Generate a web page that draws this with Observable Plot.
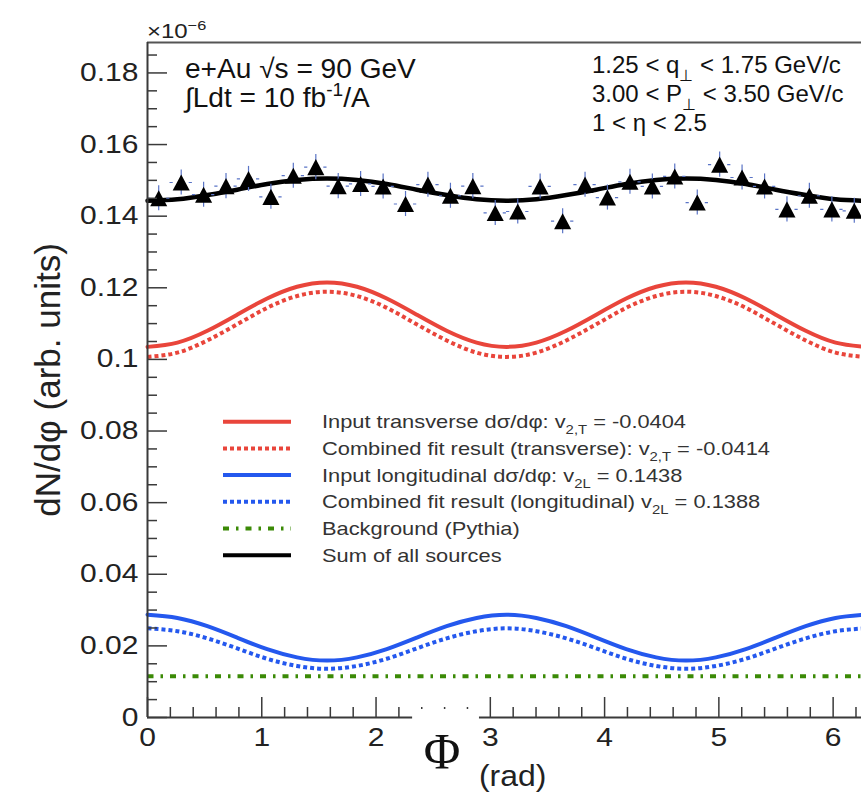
<!DOCTYPE html>
<html><head><meta charset="utf-8">
<script src="https://cdn.jsdelivr.net/npm/d3@7"></script>
<script src="https://cdn.jsdelivr.net/npm/@observablehq/plot@0.6"></script>
<style>body{margin:0;background:#fff;} svg{display:block}</style>
</head><body>
<script>
// ---------- data ----------
const phi = [0, 0.262, 0.524, 0.785, 1.047, 1.309, 1.571, 1.833, 2.094, 2.356, 2.618, 2.880, 3.142,
             3.403, 3.665, 3.927, 4.189, 4.451, 4.712, 4.974, 5.236, 5.498, 5.760, 6.021, 6.283];
const transverseInput = [0.1035,0.1047,0.1080,0.1125,0.1170,0.1203,0.1215,0.1203,0.1170,0.1125,0.1080,0.1047,0.1035,
                         0.1047,0.1080,0.1125,0.1170,0.1203,0.1215,0.1203,0.1170,0.1125,0.1080,0.1047,0.1035];
const transverseFit   = [0.1007,0.1019,0.1053,0.1098,0.1144,0.1177,0.1189,0.1177,0.1144,0.1098,0.1053,0.1019,0.1007,
                         0.1019,0.1053,0.1098,0.1144,0.1177,0.1189,0.1177,0.1144,0.1098,0.1053,0.1019,0.1007];
const longitudinalInput = [0.0287,0.0278,0.0255,0.0223,0.0191,0.0168,0.0159,0.0168,0.0191,0.0223,0.0255,0.0278,0.0287,
                           0.0278,0.0255,0.0223,0.0191,0.0168,0.0159,0.0168,0.0191,0.0223,0.0255,0.0278,0.0287];
const longitudinalFit   = [0.0249,0.0241,0.0221,0.0193,0.0164,0.0144,0.0136,0.0144,0.0164,0.0193,0.0221,0.0241,0.0249,
                           0.0241,0.0221,0.0193,0.0164,0.0144,0.0136,0.0144,0.0164,0.0193,0.0221,0.0241,0.0249];
const sumAll = [0.1443,0.1447,0.1459,0.1474,0.1490,0.1501,0.1505,0.1501,0.1490,0.1474,0.1459,0.1447,0.1443,
                0.1447,0.1459,0.1474,0.1490,0.1501,0.1505,0.1501,0.1490,0.1474,0.1459,0.1447,0.1443];
const bgPhi = [0, 6.283];
const background = [0.0115, 0.0115];

// pseudo-data points (32 bins)
const binPhi = [0.098,0.295,0.491,0.687,0.884,1.080,1.276,1.473,1.669,1.865,2.062,2.258,2.454,2.651,2.847,3.043,
                3.240,3.436,3.633,3.829,4.025,4.222,4.418,4.614,4.811,5.007,5.203,5.400,5.596,5.792,5.989,6.185];
const binValue = [0.1450,0.1494,0.1460,0.1484,0.1504,0.1454,0.1513,0.1537,0.1484,0.1490,0.1483,0.1434,0.1488,0.1457,0.1484,0.1409,
                  0.1413,0.1483,0.1386,0.1488,0.1452,0.1496,0.1483,0.1511,0.1438,0.1544,0.1508,0.1483,0.1419,0.1457,0.1419,0.1415];
const binError = 0.0035;
const binHalfWidth = 0.098;

// axes
const xMax = 6.2832, yMax = 0.1885;
const xMajorTicks = [0,1,2,3,4,5,6];
const xMinorTicks = [0.2,0.4,0.6,0.8,1.2,1.4,1.6,1.8,2.2,2.4,2.6,2.8,3.2,3.4,3.6,3.8,4.2,4.4,4.6,4.8,5.2,5.4,5.6,5.8,6.2];
const yMajorTicks = [0,0.02,0.04,0.06,0.08,0.1,0.12,0.14,0.16,0.18];
const yMinorTicks = [0.005,0.01,0.015,0.025,0.03,0.035,0.045,0.05,0.055,0.065,0.07,0.075,0.085,0.09,0.095,
                     0.105,0.11,0.115,0.125,0.13,0.135,0.145,0.15,0.155,0.165,0.17,0.175,0.185];

const legendEntries = [
  [["Input transverse dσ/dφ: v"],["2,T","sub"],[" = -0.0404"]],
  [["Combined fit result (transverse): v"],["2,T","sub"],[" = -0.0414"]],
  [["Input longitudinal dσ/dφ: v"],["2L","sub"],[" = 0.1438"]],
  [["Combined fit result (longitudinal) v"],["2L","sub"],[" = 0.1388"]],
  [["Background (Pythia)"]],
  [["Sum of all sources"]]
];

// ---------- styles ----------
const RED = "#e9453b", BLUE = "#2458ee", GREEN = "#3b8a06", ERR = "#5a74c6", AX = "#3a3a3a";
const redDash = "4,3", blueDash = "4,3", greenDash = "6,7,2.5,7";
const legendStyles = [
  {stroke: RED, dash: null}, {stroke: RED, dash: redDash},
  {stroke: BLUE, dash: null}, {stroke: BLUE, dash: blueDash},
  {stroke: GREEN, dash: greenDash}, {stroke: "black", dash: null}
];

const curves = phi.map((p, i) => ({phi: p, tIn: transverseInput[i], tFit: transverseFit[i],
  lIn: longitudinalInput[i], lFit: longitudinalFit[i], sum: sumAll[i]}));
const bg = bgPhi.map((p, i) => ({phi: p, v: background[i]}));
const points = binPhi.map((p, i) => ({phi: p, v: binValue[i], e: binError, w: binHalfWidth}));

const W = 861, H = 793, ML = 147, MR = -4, MT = 42, MB = 76;
const plotW = W - MR - ML, plotH = H - MT - MB;

const triangle = {
  draw(ctx, size) {
    const r = Math.sqrt(size / Math.PI);
    ctx.moveTo(0, -r * 1.15);
    ctx.lineTo(r * 1.22, r * 1.15);
    ctx.lineTo(-r * 1.22, r * 1.15);
    ctx.closePath();
  }
};

const FONT = "'Liberation Sans', Arial, Helvetica, sans-serif";
const chart = Plot.plot({
  width: W, height: H, marginLeft: ML, marginRight: MR, marginTop: MT, marginBottom: MB,
  x: {domain: [0, xMax], axis: null},
  y: {domain: [0, yMax], axis: null},
  style: {fontFamily: FONT, background: "white", overflow: "visible", color: "#222"},
  marks: [
    Plot.ruleY([yMax], {stroke: "#555", strokeWidth: 2}),
    Plot.line(curves, {x: "phi", y: "tIn", stroke: RED, strokeWidth: 4, curve: "natural"}),
    Plot.line(curves, {x: "phi", y: "tFit", stroke: RED, strokeWidth: 4, strokeDasharray: redDash, strokeLinecap: "butt", curve: "natural"}),
    Plot.line(curves, {x: "phi", y: "lIn", stroke: BLUE, strokeWidth: 4, curve: "natural"}),
    Plot.line(curves, {x: "phi", y: "lFit", stroke: BLUE, strokeWidth: 4, strokeDasharray: blueDash, strokeLinecap: "butt", curve: "natural"}),
    Plot.line(bg, {x: "phi", y: "v", stroke: GREEN, strokeWidth: 4, strokeDasharray: greenDash, strokeLinecap: "butt"}),
    Plot.line(curves, {x: "phi", y: "sum", stroke: "black", strokeWidth: 4.5, curve: "natural"}),
    Plot.ruleX(points, {x: "phi", y1: d => d.v - d.e, y2: d => d.v + d.e, stroke: ERR, strokeWidth: 1.2}),
    Plot.ruleY(points, {y: "v", x1: d => d.phi - d.w, x2: d => d.phi + d.w, stroke: ERR, strokeWidth: 1.2, strokeDasharray: "3.2,16,3.2,100"}),
    Plot.dot(points, {x: "phi", y: "v", symbol: triangle, r: 7, fill: "black", stroke: "none"}),
    Plot.tickY(yMajorTicks, {y: d => d, insetRight: plotW - 20, stroke: AX, strokeWidth: 1.5}),
    Plot.tickY(yMinorTicks, {y: d => d, insetRight: plotW - 10, stroke: AX, strokeWidth: 1.5}),
    Plot.tickX(xMajorTicks, {x: d => d, insetTop: plotH - 20, stroke: AX, strokeWidth: 1.5}),
    Plot.tickX(xMinorTicks, {x: d => d, insetTop: plotH - 10, stroke: AX, strokeWidth: 1.5}),
    Plot.ruleX([0], {stroke: AX, strokeWidth: 2}),
    Plot.ruleY([0], {stroke: AX, strokeWidth: 2}),
    Plot.axisY({ticks: yMajorTicks, tickSize: 0, tickPadding: 9, fontSize: 25, label: null,
      tickFormat: d => d === 0 ? "0" : String(Math.round(d * 100) / 100)}),
    Plot.axisX({ticks: xMajorTicks, tickSize: 0, tickPadding: 11, fontSize: 25, label: null,
      tickFormat: d => String(d)})
  ]
});
document.body.append(chart);

const svg = d3.select(chart);
const xs = chart.scale("x"), ys = chart.scale("y");

function stretch(node, f) {
  const len = node.getComputedTextLength();
  node.setAttribute("textLength", len * f);
  node.setAttribute("lengthAdjust", "spacingAndGlyphs");
}
svg.selectAll('g[aria-label="y-axis tick label"] text, g[aria-label="x-axis tick label"] text')
  .each(function() { stretch(this, 1.2); });

// white box behind the x-axis title (as in the original figure)
const gx0 = xs.apply(2.32), gx1 = xs.apply(2.905);
svg.append("rect").attr("x", gx0).attr("y", ys.apply(0) - 8).attr("width", gx1 - gx0)
  .attr("height", H - ys.apply(0) + 8).attr("fill", "white");

function addText(x, y, parts, size, opts = {}) {
  const t = svg.append("text").attr("x", x).attr("y", y).attr("font-size", size)
    .attr("fill", opts.fill || "#111").attr("font-family", opts.family || FONT)
    .attr("text-anchor", opts.anchor || "start");
  if (opts.transform) t.attr("transform", opts.transform);
  let shift = 0;
  for (const [s, kind] of parts) {
    const ts = t.append("tspan").text(s);
    let target = 0, fs = size;
    if (kind === "sub") { target = size * 0.32; fs = size * 0.68; }
    if (kind === "sup") { target = -size * 0.42; fs = size * 0.68; }
    ts.attr("dy", target - shift).attr("font-size", fs);
    shift = target;
  }
  if (opts.stretch) stretch(t.node(), opts.stretch);
  return t;
}

// multiplier
addText(147, 38, [["×10"], ["−6", "sup"]], 20, {fill: "#222", stretch: 1.2});

// annotations
addText(185, 78, [["e+Au √s = 90 GeV"]], 27, {stretch: 1.04});
addText(185, 107, [["∫Ldt = 10 fb"], ["-1", "sup"], ["/A"]], 27, {stretch: 1.04});
addText(592, 73, [["1.25 < q"], ["⊥", "sub"], [" < 1.75 GeV/c"]], 24);
addText(592, 102, [["3.00 < P"], ["⊥", "sub"], [" < 3.50 GeV/c"]], 24);
addText(592, 131, [["1 < η < 2.5"]], 24);

// axis titles
addText(60, 380, [["dN/dφ (arb. units)"]], 35, {anchor: "middle", transform: "rotate(-90 60 380)", fill: "#222"});
addText(442, 768, [["Φ"]], 50, {anchor: "middle", family: "'Liberation Serif', 'Times New Roman', serif", fill: "#111"});
addText(479, 786, [["(rad)"]], 29, {fill: "#222", stretch: 1.1});

// legend
const legY0 = 421.7, legDy = 26.7;
legendEntries.forEach((parts, i) => {
  const y = legY0 + i * legDy;
  const st = legendStyles[i];
  const ln = svg.append("line").attr("x1", 223).attr("x2", 291).attr("y1", y).attr("y2", y)
    .attr("stroke", st.stroke).attr("stroke-width", 4);
  if (st.dash) ln.attr("stroke-dasharray", st.dash);
  addText(322, y + 6.5, parts, 18.5, {fill: "#333", stretch: 1.18});
});
</script>
</body></html>
